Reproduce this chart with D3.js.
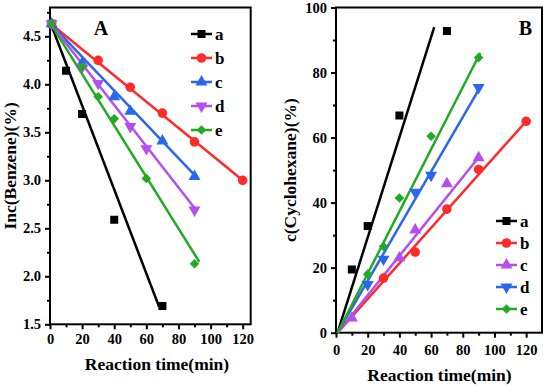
<!DOCTYPE html>
<html>
<head>
<meta charset="utf-8">
<title>Benzene hydrogenation kinetics</title>
<style>
  body { margin: 0; background: #fff; }
  svg { display: block; background: #fff; }
  text { font-family: "Liberation Serif", "Times New Roman", serif; font-weight: bold; fill: #000; }
  .axis path, .axis line { stroke: #000; }
  .axis text { font-size: 14.5px; }
</style>
</head>
<body>
<div id="chart"></div>
<script src="https://d3js.org/d3.v7.min.js"></script>
<script>
// series keys
var seriesKeys = ["a", "b", "c", "d", "e"];

// panel A: ln c(Benzene) vs reaction time
var timeA = {
  a: [1, 10, 20, 40, 70],
  b: [1, 30, 50, 70, 90, 120],
  c: [1, 20, 40, 50, 70, 90],
  d: [1, 20, 30, 50, 60, 90],
  e: [1, 20, 30, 40, 60, 90]
};
var valueA = {
  a: [4.63, 4.14, 3.69, 2.59, 1.69],
  b: [4.63, 4.25, 3.97, 3.70, 3.40, 3.00],
  c: [4.63, 4.22, 3.87, 3.72, 3.41, 3.04],
  d: [4.63, 4.18, 4.01, 3.56, 3.33, 2.69],
  e: [4.63, 4.18, 3.87, 3.64, 3.02, 2.13]
};
// fitted lines, [t0, v0, t1, v1]
var fitA = {
  a: [0.5, 4.63, 68, 1.68],
  b: [0.5, 4.63, 120, 3.00],
  c: [0.5, 4.63, 92, 3.02],
  d: [0.5, 4.63, 91, 2.69],
  e: [0.5, 4.63, 93, 2.15]
};

// panel B: c(Cyclohexane) vs reaction time
var timeB = {
  a: [10, 20, 40, 70],
  b: [30, 50, 70, 90, 120],
  c: [10, 40, 50, 70, 90],
  d: [20, 30, 50, 60, 90],
  e: [20, 30, 40, 60, 90]
};
var valueB = {
  a: [19.4, 32.8, 66.8, 92.8],
  b: [16.8, 24.8, 38.0, 50.2, 65.0],
  c: [4.5, 23.0, 31.6, 45.8, 53.8],
  d: [14.8, 22.6, 43.2, 48.4, 75.4],
  e: [18.0, 26.5, 41.4, 60.4, 84.6]
};
var fitB = {
  a: [1, 0, 62, 94],
  b: [1, 0, 120, 65],
  c: [1, 0, 91, 54.5],
  d: [1, 0, 91, 75.5],
  e: [1, 0, 91, 86]
};

var xTicks = [0, 20, 40, 60, 80, 100, 120];
var yTicksA = [1.5, 2.0, 2.5, 3.0, 3.5, 4.0, 4.5];
var yTicksB = [0, 20, 40, 60, 80, 100];

var red = "#ff2a2a", blue = "#2a66ee", purple = "#b44ef0", green = "#22aa22";
var colorA = { a: "#000", b: red, c: blue, d: purple, e: green };
var colorB = { a: "#000", b: red, c: purple, d: blue, e: green };
var shapes = { a: "square", b: "circle", c: "up", d: "down", e: "diamond" };

var W = 546, H = 387;
var svg = d3.select("#chart").append("svg").attr("width", W).attr("height", H);

function marker(g, shape, color, x, y) {
  var sym, size, rot = 0;
  if (shape == "square") { sym = d3.symbolSquare; size = 64; }
  else if (shape == "circle") { sym = d3.symbolCircle; size = 72; }
  else if (shape == "up") { sym = d3.symbolTriangle; size = 62; }
  else if (shape == "down") { sym = d3.symbolTriangle; size = 62; rot = 180; }
  else { sym = d3.symbolSquare; size = 46; rot = 45; }
  g.append("path")
    .attr("d", d3.symbol().type(sym).size(size)())
    .attr("transform", "translate(" + x + "," + y + ") rotate(" + rot + ")")
    .attr("fill", color);
}

function panel(opt) {
  var x = d3.scaleLinear().domain(opt.xDomain).range(opt.xRange);
  var y = d3.scaleLinear().domain(opt.yDomain).range(opt.yRange);
  var g = svg.append("g");

  // minor ticks
  var xMinor = d3.range(10, opt.xDomain[1], 20);
  g.append("g").attr("class", "axis")
    .attr("transform", "translate(0," + opt.yRange[0] + ")")
    .call(d3.axisBottom(x).tickValues(xMinor).tickSize(3).tickFormat(""));
  g.append("g").attr("class", "axis")
    .attr("transform", "translate(" + opt.xRange[0] + ",0)")
    .call(d3.axisLeft(y).tickValues(opt.yMinor).tickSize(3).tickFormat(""));

  // major ticks
  g.append("g").attr("class", "axis")
    .attr("transform", "translate(0," + opt.yRange[0] + ")")
    .call(d3.axisBottom(x).tickValues(xTicks).tickSize(5).tickPadding(opt.xPad));
  g.append("g").attr("class", "axis")
    .attr("transform", "translate(" + opt.xRange[0] + ",0)")
    .call(d3.axisLeft(y).tickValues(opt.yTicks).tickSize(5).tickPadding(4).tickFormat(opt.yFormat));
  g.selectAll(".axis line").attr("stroke-width", 2);
  g.selectAll(".axis .domain").remove();
  g.selectAll(".axis").attr("font-family", null);

  // frame
  g.append("rect")
    .attr("x", opt.xRange[0]).attr("y", opt.yRange[1])
    .attr("width", opt.xRange[1] - opt.xRange[0])
    .attr("height", opt.yRange[0] - opt.yRange[1])
    .attr("fill", "none").attr("stroke", "#000").attr("stroke-width", 2);

  var plot = g.append("g");
  var clipId = "clip" + opt.name;
  svg.append("clipPath").attr("id", clipId).append("rect")
    .attr("x", opt.xRange[0] - 6).attr("y", opt.yRange[1])
    .attr("width", opt.xRange[1] - opt.xRange[0] + 6)
    .attr("height", opt.yRange[0] - opt.yRange[1] + 6);
  plot.attr("clip-path", "url(#" + clipId + ")");

  seriesKeys.forEach(function(k) {
    var f = opt.fit[k];
    plot.append("line")
      .attr("x1", x(f[0])).attr("y1", y(f[1]))
      .attr("x2", x(f[2])).attr("y2", y(f[3]))
      .attr("stroke", opt.color[k]).attr("stroke-width", 2.5);
  });
  seriesKeys.forEach(function(k) {
    opt.time[k].forEach(function(t, i) {
      marker(plot, shapes[k], opt.color[k], x(t), y(opt.value[k][i]));
    });
  });

  // legend
  var lg = g.append("g");
  seriesKeys.forEach(function(k, i) {
    var ly = opt.legY + i * opt.legStep;
    lg.append("line")
      .attr("x1", opt.legX).attr("x2", opt.legX + 21)
      .attr("y1", ly).attr("y2", ly)
      .attr("stroke", opt.color[k]).attr("stroke-width", 2.5);
    marker(lg, shapes[k], opt.color[k], opt.legX + 10.5, ly);
    lg.append("text").attr("x", opt.legX + 24).attr("y", ly + 5.5)
      .style("font-size", "17px").text(k);
  });

  // panel letter
  g.append("text").attr("x", opt.letter[0]).attr("y", opt.letter[1])
    .attr("text-anchor", "middle").style("font-size", "20px").text(opt.name);

  // axis titles
  g.append("text")
    .attr("x", opt.xTitleX).attr("y", opt.xTitleY)
    .attr("text-anchor", "middle").style("font-size", "17.5px")
    .text("Reaction time(min)");
  g.append("text")
    .attr("transform", "translate(" + opt.yTitleX + "," + (opt.yRange[0] + opt.yRange[1]) / 2 + ") rotate(-90)")
    .attr("text-anchor", "middle").style("font-size", "17.5px")
    .text(opt.yTitle);
}

panel({
  name: "A",
  xDomain: [0, 125], xRange: [50, 250.7],
  yDomain: [1.5, 4.8], yRange: [324.3, 7.5],
  yTicks: yTicksA, yMinor: [1.75, 2.25, 2.75, 3.25, 3.75, 4.25, 4.75],
  yFormat: d3.format(".1f"), xPad: 4,
  time: timeA, value: valueA, fit: fitA, color: colorA,
  legX: 191, legY: 34, legStep: 24,
  letter: [101, 35],
  xTitleX: 157, xTitleY: 370, yTitleX: 16, yTitle: "Inc(Benzene)(%)"
});

panel({
  name: "B",
  xDomain: [0, 130], xRange: [336, 542],
  yDomain: [0, 100], yRange: [332.7, 7.5],
  yTicks: yTicksB, yMinor: [10, 30, 50, 70, 90],
  yFormat: d3.format("d"), xPad: 7,
  time: timeB, value: valueB, fit: fitB, color: colorB,
  legX: 496, legY: 221, legStep: 22,
  letter: [525.5, 34.5],
  xTitleX: 439.5, xTitleY: 381, yTitleX: 296, yTitle: "c(Cyclohexane)(%)"
});
</script>
</body>
</html>
